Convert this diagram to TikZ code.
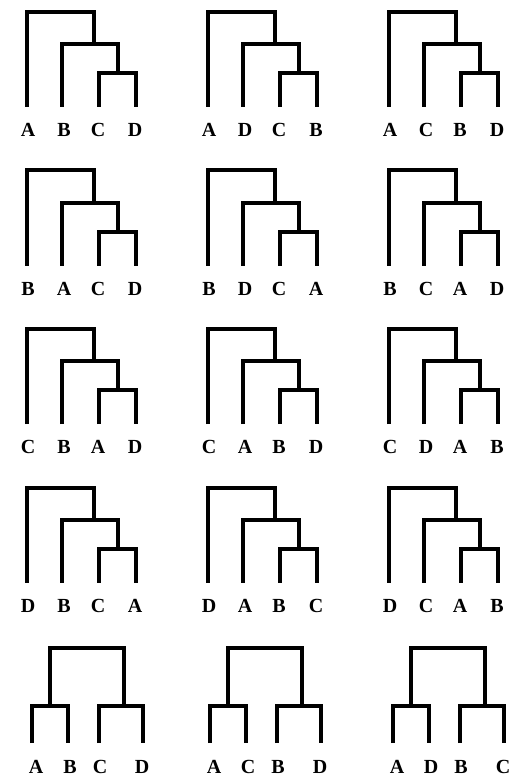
\documentclass[tikz,border=0pt]{standalone}
\usepackage{fontspec}
\setmainfont{Liberation Serif}
\begin{document}
\begin{tikzpicture}[x=1pt,y=-1pt,
  br/.style={line width=4pt,line join=miter},
  lbl/.style={font=\bfseries\fontsize{20}{20}\selectfont,inner sep=0pt},
  pics/cater/.style n args={4}{code={
    \coordinate (-l1) at (0,95);
    \coordinate (-l2) at (35,95);
    \coordinate (-l3) at (72,95);
    \coordinate (-l4) at (109,95);
    \coordinate (-n3) at (90.5,61);
    \coordinate (-n2) at (67,32);
    \coordinate (-n1) at (33,0);
    \node[lbl] (-a) at (1,118) {#1};
    \node[lbl] (-b) at (37,118) {#2};
    \node[lbl] (-c) at (71,118) {#3};
    \node[lbl] (-d) at (108,118) {#4};
    \draw[br] (-l3) |- (-n3) -| (-l4);
    \draw[br] (-l2) |- (-n2) -| (-n3);
    \draw[br] (-l1) |- (-n1) -| (-n2);
  }},
  pics/bal/.style n args={4}{code={
    \coordinate (-l1) at (0,95);
    \coordinate (-l2) at (36,95);
    \coordinate (-l3) at (67,95);
    \coordinate (-l4) at (111,95);
    \coordinate (-p) at (18,58);
    \coordinate (-q) at (92,58);
    \coordinate (-r) at (55,0);
    \node[lbl] (-a) at (4,119) {#1};
    \node[lbl] (-b) at (38,119) {#2};
    \node[lbl] (-c) at (68,119) {#3};
    \node[lbl] (-d) at (110,119) {#4};
    \draw[br] (-l1) |- (-p) -| (-l2);
    \draw[br] (-l3) |- (-q) -| (-l4);
    \draw[br] (-p) |- (-r) -| (-q);
  }}]
\useasboundingbox (0,0) rectangle (509,778);
% four-taxon caterpillar trees
\pic (t11) at (27,12) {cater={A}{B}{C}{D}};
\pic (t12) at (208,12) {cater={A}{D}{C}{B}};
\pic (t13) at (389,12) {cater={A}{C}{B}{D}};
\pic (t21) at (27,170.5) {cater={B}{A}{C}{D}};
\pic (t22) at (208,170.5) {cater={B}{D}{C}{A}};
\pic (t23) at (389,170.5) {cater={B}{C}{A}{D}};
\pic (t31) at (27,329) {cater={C}{B}{A}{D}};
\pic (t32) at (208,329) {cater={C}{A}{B}{D}};
\pic (t33) at (389,329) {cater={C}{D}{A}{B}};
\pic (t41) at (27,487.5) {cater={D}{B}{C}{A}};
\pic (t42) at (208,487.5) {cater={D}{A}{B}{C}};
\pic (t43) at (389,487.5) {cater={D}{C}{A}{B}};
% balanced trees
\pic (t51) at (32,648) {bal={A}{B}{C}{D}};
\pic (t52) at (210,648) {bal={A}{C}{B}{D}};
\pic (t53) at (393,648) {bal={A}{D}{B}{C}};
\end{tikzpicture}
\end{document}
